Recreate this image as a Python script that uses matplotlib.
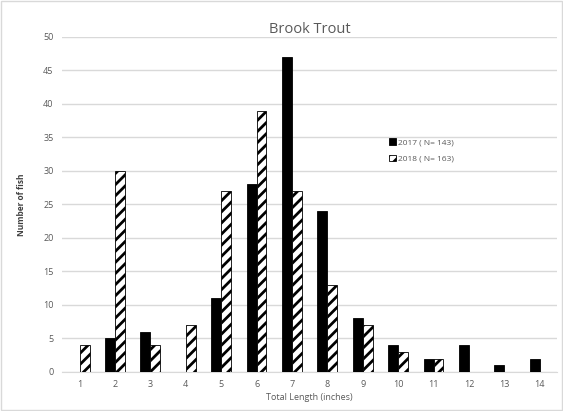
import matplotlib
matplotlib.use("Agg")
import matplotlib.pyplot as plt
import numpy as np
from matplotlib.patches import Rectangle

# Data
lengths = [1, 2, 3, 4, 5, 6, 7, 8, 9, 10, 11, 12, 13, 14]
fish_2017 = [0, 5, 6, 0, 11, 28, 47, 24, 8, 4, 2, 4, 1, 2]
fish_2018 = [4, 30, 4, 7, 27, 39, 27, 13, 7, 3, 2, 0, 0, 0]
labels = ["2017 ( N= 143)", "2018 ( N= 163)"]

plt.rcParams['font.family'] = ['Open Sans', 'DejaVu Sans']
plt.rcParams['hatch.linewidth'] = 2.0

fig = plt.figure(figsize=(5.63, 4.11), dpi=100)
ax = fig.add_axes([0.110, 0.095, 0.880, 0.815])

x = np.array(lengths)
w = 0.28
ax.bar(x - w / 2, fish_2017, width=w, color="black", edgecolor="black",
       linewidth=0.6, label=labels[0], zorder=3)
ax.bar(x + w / 2, fish_2018, width=w, color="white", edgecolor="black",
       hatch="///", linewidth=0.6, label=labels[1], zorder=3)

ax.set_xlim(0.5, 14.5)
ax.set_ylim(0, 50)
ax.set_yticks(range(0, 51, 5))
ax.set_xticks(lengths)
ax.grid(axis="y", color="#d9d9d9", linewidth=1, zorder=0)
for s in ["top", "right", "left"]:
    ax.spines[s].set_visible(False)
ax.spines["bottom"].set_color("#d9d9d9")
ax.tick_params(length=0, labelsize=6.5, colors="#595959", pad=6)

ax.set_title("Brook Trout", fontsize=10.5, color="#595959", pad=3)
ax.set_xlabel("Total Length (inches)", fontsize=6.5, color="#595959", labelpad=3)
ax.set_ylabel("Number of fish", fontsize=6, color="#404040", fontweight="bold", labelpad=12)

ax.legend(loc="upper left", bbox_to_anchor=(0.645, 0.72), frameon=False,
          fontsize=6, labelcolor="#595959", handlelength=0.8, handleheight=0.8,
          handletextpad=0.3, labelspacing=1.0)

fig.patches.append(Rectangle((0.002, 0.002), 0.996, 0.996, transform=fig.transFigure,
                             fill=False, edgecolor="#d9d9d9", linewidth=1))

fig.savefig("out.png", dpi=100)
